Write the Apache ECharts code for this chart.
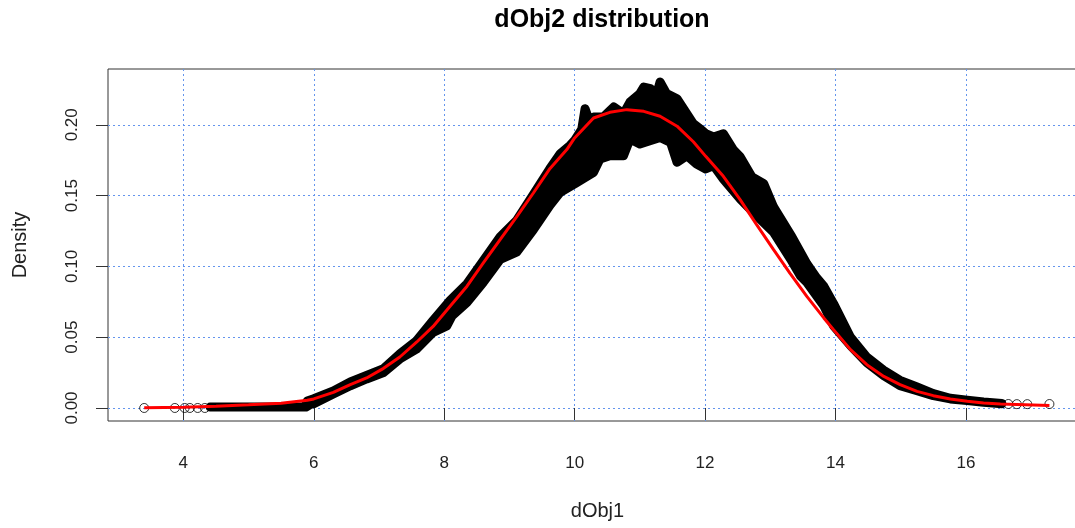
<!DOCTYPE html>
<html>
<head>
<meta charset="utf-8">
<script src="https://cdn.jsdelivr.net/npm/echarts@6/dist/echarts.min.js"></script>
<style>
  html, body { margin: 0; padding: 0; background: #fff; }
  #chart { width: 1075px; height: 528px; }
</style>
</head>
<body>
<div id="chart"></div>
<script>
const xTicks = [4, 6, 8, 10, 12, 14, 16]
const yTicks = [0, 0.05, 0.1, 0.15, 0.2]

// upper / lower edge of the dense point cloud (circle centres)
const upperX = [4.41, 5.86, 5.90, 6.00, 6.30, 6.56, 6.81, 7.07, 7.32, 7.58, 7.83, 8.09, 8.35, 8.60, 8.86, 9.11, 9.37, 9.62, 9.78, 9.93, 10.00, 10.11, 10.16, 10.24, 10.29, 10.44, 10.60, 10.75, 10.85, 11.00, 11.06, 11.16, 11.26, 11.31, 11.41, 11.57, 11.72, 11.82, 11.93, 12.01, 12.13, 12.28, 12.44, 12.54, 12.72, 12.90, 13.05, 13.33, 13.56, 13.71, 13.82, 13.97, 14.23, 14.48, 14.74, 14.99, 15.25, 15.50, 15.76, 16.02, 16.27, 16.55]
const upperY = [0.0006, 0.0006, 0.0050, 0.0066, 0.0120, 0.0184, 0.0230, 0.0278, 0.0383, 0.0477, 0.0619, 0.0760, 0.0878, 0.1040, 0.1210, 0.1325, 0.1510, 0.1690, 0.1796, 0.1855, 0.1890, 0.1970, 0.2114, 0.2008, 0.2055, 0.2055, 0.2126, 0.2078, 0.2161, 0.2220, 0.2267, 0.2255, 0.2220, 0.2302, 0.2220, 0.2184, 0.2078, 0.2008, 0.1970, 0.1937, 0.1914, 0.1937, 0.1820, 0.1773, 0.1631, 0.1584, 0.1420, 0.1210, 0.1019, 0.0920, 0.0860, 0.0737, 0.0500, 0.0360, 0.0266, 0.0195, 0.0148, 0.0101, 0.0068, 0.0055, 0.0042, 0.0032]
const lowerX = [4.41, 5.88, 5.95, 6.00, 6.30, 6.56, 6.81, 7.07, 7.32, 7.58, 7.83, 8.04, 8.12, 8.35, 8.60, 8.86, 9.11, 9.37, 9.62, 9.78, 10.00, 10.29, 10.39, 10.54, 10.75, 10.85, 11.00, 11.31, 11.47, 11.57, 11.72, 11.87, 12.01, 12.13, 12.28, 12.54, 12.79, 13.05, 13.31, 13.46, 13.56, 13.82, 13.97, 14.23, 14.48, 14.74, 14.99, 15.25, 15.50, 15.76, 16.02, 16.27, 16.55]
const lowerY = [0.0006, 0.0006, 0.0025, 0.0030, 0.0099, 0.0157, 0.0205, 0.0251, 0.0346, 0.0417, 0.0534, 0.0580, 0.0650, 0.0746, 0.0887, 0.1050, 0.1100, 0.1260, 0.1430, 0.1523, 0.1582, 0.1664, 0.1759, 0.1782, 0.1782, 0.1900, 0.1864, 0.1911, 0.1876, 0.1735, 0.1782, 0.1723, 0.1688, 0.1711, 0.1617, 0.1476, 0.1358, 0.1240, 0.1052, 0.0934, 0.0887, 0.0722, 0.0580, 0.0440, 0.0320, 0.0228, 0.0157, 0.0122, 0.0087, 0.0064, 0.0052, 0.0040, 0.0030]

// isolated points in the tails
const tailX = [3.40, 3.87, 4.02, 4.10, 4.22, 4.33, 16.65, 16.78, 16.94, 17.28]
const tailY = [0, 0, 0, 0, 0, 0, 0.0028, 0.0027, 0.0027, 0.0028]

// fitted density curve
const curveX = [3.40, 4.00, 4.50, 5.00, 5.50, 5.90, 6.00, 6.30, 6.56, 6.81, 7.07, 7.32, 7.58, 7.83, 8.09, 8.35, 8.60, 8.86, 9.11, 9.37, 9.62, 9.88, 10.00, 10.29, 10.54, 10.80, 11.06, 11.31, 11.57, 11.82, 12.01, 12.28, 12.54, 12.79, 13.05, 13.30, 13.56, 13.82, 13.97, 14.23, 14.48, 14.74, 14.99, 15.25, 15.50, 15.76, 16.02, 16.27, 16.53, 17.28]
const curveY = [0.0002, 0.0005, 0.0012, 0.0022, 0.0033, 0.0054, 0.0064, 0.0110, 0.0165, 0.0212, 0.0280, 0.0360, 0.0466, 0.0576, 0.0718, 0.0860, 0.1024, 0.1190, 0.1350, 0.1520, 0.1690, 0.1825, 0.1907, 0.2048, 0.2088, 0.2107, 0.2095, 0.2060, 0.1990, 0.1880, 0.1777, 0.1636, 0.1470, 0.1295, 0.1118, 0.0953, 0.0788, 0.0636, 0.0553, 0.0412, 0.0306, 0.0223, 0.0165, 0.0117, 0.0087, 0.0064, 0.0047, 0.0035, 0.0028, 0.0018]

const font = 'Liberation Sans, Arial, sans-serif'
const gridLine = { show: true, lineStyle: { color: '#6495ED', width: 1, type: [2, 3] } }

const chart = echarts.init(document.getElementById('chart'))

chart.setOption({
  animation: false,
  backgroundColor: '#fff',
  title: {
    text: 'dObj2 distribution',
    left: 597,
    textAlign: 'center',
    top: 3,
    textStyle: { fontFamily: font, fontSize: 25, fontWeight: 'bold', color: '#000' }
  },
  grid: {
    left: 108,
    top: 69,
    width: 979,
    height: 352,
    outerBoundsMode: 'none',
    containLabel: false,
    show: true,
    borderColor: '#333',
    borderWidth: 1
  },
  xAxis: {
    type: 'value',
    min: 2.845,
    max: 17.856,
    name: 'dObj1',
    nameLocation: 'middle',
    nameGap: 80,
    nameTextStyle: { fontFamily: font, fontSize: 20, color: '#222' },
    axisLine: { show: false },
    axisTick: { show: true, length: 12, customValues: xTicks, lineStyle: { color: '#333' } },
    axisLabel: { customValues: xTicks, margin: 34, fontFamily: font, fontSize: 17, color: '#222' },
    splitLine: gridLine
  },
  yAxis: {
    type: 'value',
    min: -0.0092,
    max: 0.2394,
    name: 'Density',
    nameLocation: 'middle',
    nameGap: 78,
    nameTextStyle: { fontFamily: font, fontSize: 20, color: '#222' },
    axisLine: { show: false },
    axisTick: { show: true, length: 12, customValues: yTicks, lineStyle: { color: '#333' } },
    axisLabel: {
      customValues: yTicks,
      rotate: 90,
      margin: 27,
      fontFamily: font,
      fontSize: 17,
      color: '#222',
      formatter: v => v.toFixed(2)
    },
    splitLine: gridLine
  },
  series: [
    {
      type: 'custom',
      data: [[upperX[0], upperY[0]]],
      encode: { x: 0, y: 1 },
      z: 2,
      renderItem: (params, api) => {
        const pts = upperX.map((x, i) => api.coord([x, upperY[i]]))
        for (let i = lowerX.length - 1; i >= 0; i--) {
          pts.push(api.coord([lowerX[i], lowerY[i]]))
        }
        return {
          type: 'polygon',
          shape: { points: pts },
          style: { fill: '#000', stroke: '#000', lineWidth: 9, lineJoin: 'round' }
        }
      }
    },
    {
      type: 'scatter',
      data: tailX.map((x, i) => [x, tailY[i]]),
      symbol: 'circle',
      symbolSize: 9,
      z: 3,
      itemStyle: { color: 'rgba(0,0,0,0)', borderColor: '#000', borderWidth: 1 }
    },
    {
      type: 'line',
      data: curveX.map((x, i) => [x, curveY[i]]),
      showSymbol: false,
      symbol: 'none',
      z: 4,
      lineStyle: { color: '#ff0000', width: 3 }
    }
  ]
})
</script>
</body>
</html>
